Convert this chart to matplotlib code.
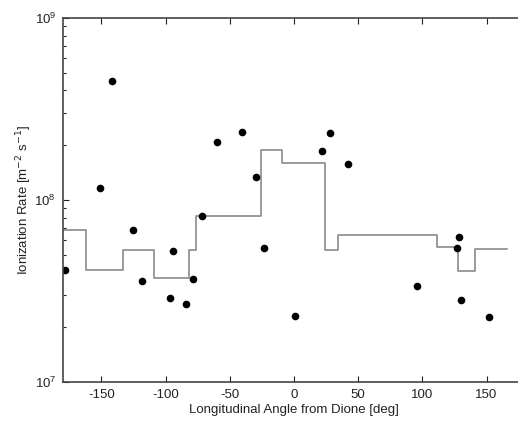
"""Ionization rate vs longitudinal angle from Dione, step model plus measured points."""

import matplotlib

matplotlib.use("Agg")
from matplotlib import pyplot as plt
from matplotlib.ticker import LogLocator, NullFormatter

plt.rcParams["font.family"] = ["Liberation Sans", "DejaVu Sans"]
plt.rcParams["axes.unicode_minus"] = False

# measured rates (dots)
angle_deg = [-178.6, -150.8, -142.2, -125.8, -118.8, -96.3, -94.3, -84.1, -78.6, -71.4,
             -60.2, -40.4, -29.4, -23.2, 0.8, 22.2, 27.8, 42.2, 96.1, 127.3, 128.4, 130.5, 152.3]
rate = [4.1e7, 1.16e8, 4.5e8, 6.8e7, 3.57e7, 2.9e7, 5.26e7, 2.69e7, 3.7e7, 8.2e7,
        2.07e8, 2.36e8, 1.33e8, 5.47e7, 2.3e7, 1.87e8, 2.32e8, 1.58e8, 3.38e7, 5.47e7, 6.3e7, 2.81e7, 2.28e7]

# binned model (step line)
bin_edges = [-180, -162, -133, -109, -82, -76, -26, -9, 24.5, 34.5, 111.5, 128, 141, 166]
bin_levels = [6.8e7, 4.15e7, 5.3e7, 3.75e7, 5.3e7, 8.2e7, 1.88e8, 1.6e8, 5.3e7, 6.45e7, 5.5e7, 4.05e7, 5.4e7]

x_ticks = [-150, -100, -50, 0, 50, 100, 150]


def main() -> None:
    fig = plt.figure(figsize=(5.18, 4.22), dpi=100)
    # right spine sits just past the image edge, as in the source
    ax = fig.add_axes([63 / 518, 40 / 422, 462 / 518, 364 / 422])

    ax.step(bin_edges, bin_levels + [bin_levels[-1]], where="post", color="#8a8a8a", linewidth=1.2)
    ax.plot(angle_deg, rate, "o", color="black", markersize=5.5, markeredgewidth=0)

    ax.set_yscale("log")
    ax.set_ylim(1e7, 1e9)
    ax.set_xlim(-180, 180)
    ax.set_xticks(x_ticks)
    ax.yaxis.set_minor_locator(LogLocator(base=10, subs=range(2, 10)))
    ax.yaxis.set_minor_formatter(NullFormatter())

    ax.tick_params(axis="both", which="both", direction="in", top=True, right=True,
                   labelsize=9.5, colors="#222222", width=0.8)
    ax.tick_params(axis="both", which="major", length=4, pad=5)
    ax.tick_params(axis="y", which="minor", length=2.5)
    for spine in ax.spines.values():
        spine.set_color("#444444")
        spine.set_linewidth(1.2)

    ax.set_xlabel("Longitudinal Angle from Dione [deg]", fontsize=9.5, color="#222222", labelpad=2)
    ax.set_ylabel("Ionization Rate [m$^{-2}$ s$^{-1}$]", fontsize=9.5, color="#222222", labelpad=0)

    fig.savefig("out.png", dpi=100)
    plt.close(fig)


if __name__ == "__main__":
    main()
